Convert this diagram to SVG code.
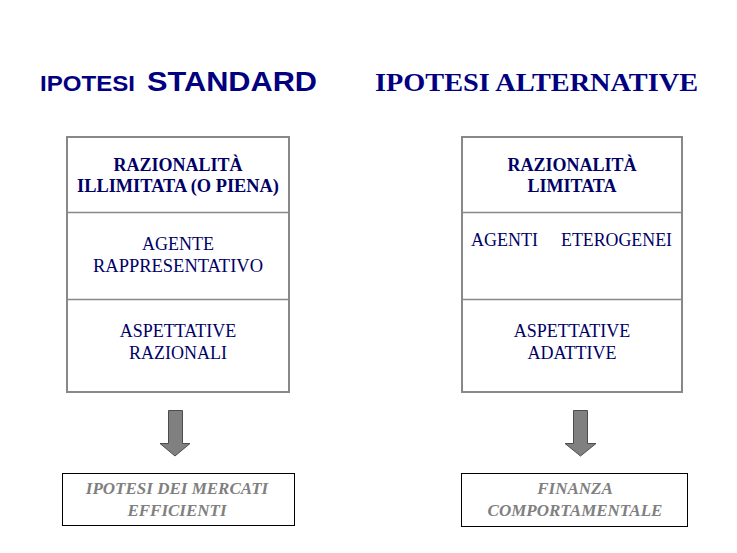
<svg xmlns="http://www.w3.org/2000/svg" width="737" height="553" viewBox="0 0 737 553">
<style>
.title{fill:#000080;font-weight:bold}
.box{fill:#ffffff;stroke:#888888;stroke-width:2}
.div{stroke:#888888;stroke-width:1.5}
.bt{font-family:"Liberation Serif","Times New Roman",serif;font-size:18px;fill:#000066;text-anchor:middle}
.b{font-weight:bold}
.res{fill:#ffffff;stroke:#000000;stroke-width:1}
.rt{font-family:"Liberation Serif","Times New Roman",serif;font-size:17px;font-weight:bold;font-style:italic;fill:#808080;text-anchor:middle}
.arrow{fill:#808080;stroke:#4d4d4d;stroke-width:1}
</style>
<rect width="737" height="553" fill="#ffffff"/>
<g id="title-standard">
<text class="title" x="40" y="91" font-family="Liberation Sans,Arial,sans-serif" font-size="22" textLength="95" lengthAdjust="spacingAndGlyphs">IPOTESI</text>
<text class="title" x="147" y="91" font-family="Liberation Sans,Arial,sans-serif" font-size="28" textLength="170" lengthAdjust="spacingAndGlyphs">STANDARD</text>
</g>
<g id="title-alternative">
<text class="title" x="375" y="91" font-family="Liberation Serif,Times New Roman,serif" font-size="26" textLength="323" lengthAdjust="spacingAndGlyphs">IPOTESI ALTERNATIVE</text>
</g>
<g id="box-standard">
<rect class="box" x="67" y="137" width="222" height="255"/>
<line class="div" x1="67" y1="212.5" x2="289" y2="212.5"/>
<line class="div" x1="67" y1="299.5" x2="289" y2="299.5"/>
<text class="bt b" x="178" y="171">RAZIONALITÀ</text>
<text class="bt b" x="178" y="192" textLength="202" lengthAdjust="spacingAndGlyphs">ILLIMITATA (O PIENA)</text>
<text class="bt" x="178" y="250">AGENTE</text>
<text class="bt" x="178" y="272" textLength="170" lengthAdjust="spacingAndGlyphs">RAPPRESENTATIVO</text>
<text class="bt" x="178" y="337">ASPETTATIVE</text>
<text class="bt" x="178" y="359">RAZIONALI</text>
</g>
<g id="box-alternative">
<rect class="box" x="462" y="137" width="220" height="255"/>
<line class="div" x1="462" y1="212.5" x2="682" y2="212.5"/>
<line class="div" x1="462" y1="299.5" x2="682" y2="299.5"/>
<text class="bt b" x="572" y="171">RAZIONALITÀ</text>
<text class="bt b" x="572" y="192">LIMITATA</text>
<text class="bt" x="471" y="246" style="text-anchor:start">AGENTI</text>
<text class="bt" x="561" y="246" style="text-anchor:start" textLength="111" lengthAdjust="spacingAndGlyphs">ETEROGENEI</text>
<text class="bt" x="572" y="337">ASPETTATIVE</text>
<text class="bt" x="572" y="359">ADATTIVE</text>
</g>
<g id="connectors">
<polygon class="arrow" points="168.5,410.5 182.5,410.5 182.5,443.5 190,443.5 175,456 160,443.5 168.5,443.5"/>
<polygon class="arrow" points="573.5,410.5 587.5,410.5 587.5,443.5 596,443.5 580.5,456 565,443.5 573.5,443.5"/>
</g>
<g id="result-emh">
<rect class="res" x="62.5" y="473.5" width="232" height="52"/>
<text class="rt" x="177" y="494">IPOTESI DEI MERCATI</text>
<text class="rt" x="177" y="516">EFFICIENTI</text>
</g>
<g id="result-behavioral">
<rect class="res" x="461.5" y="473.5" width="226" height="53"/>
<text class="rt" x="575" y="494">FINANZA</text>
<text class="rt" x="575" y="516">COMPORTAMENTALE</text>
</g>
</svg>
